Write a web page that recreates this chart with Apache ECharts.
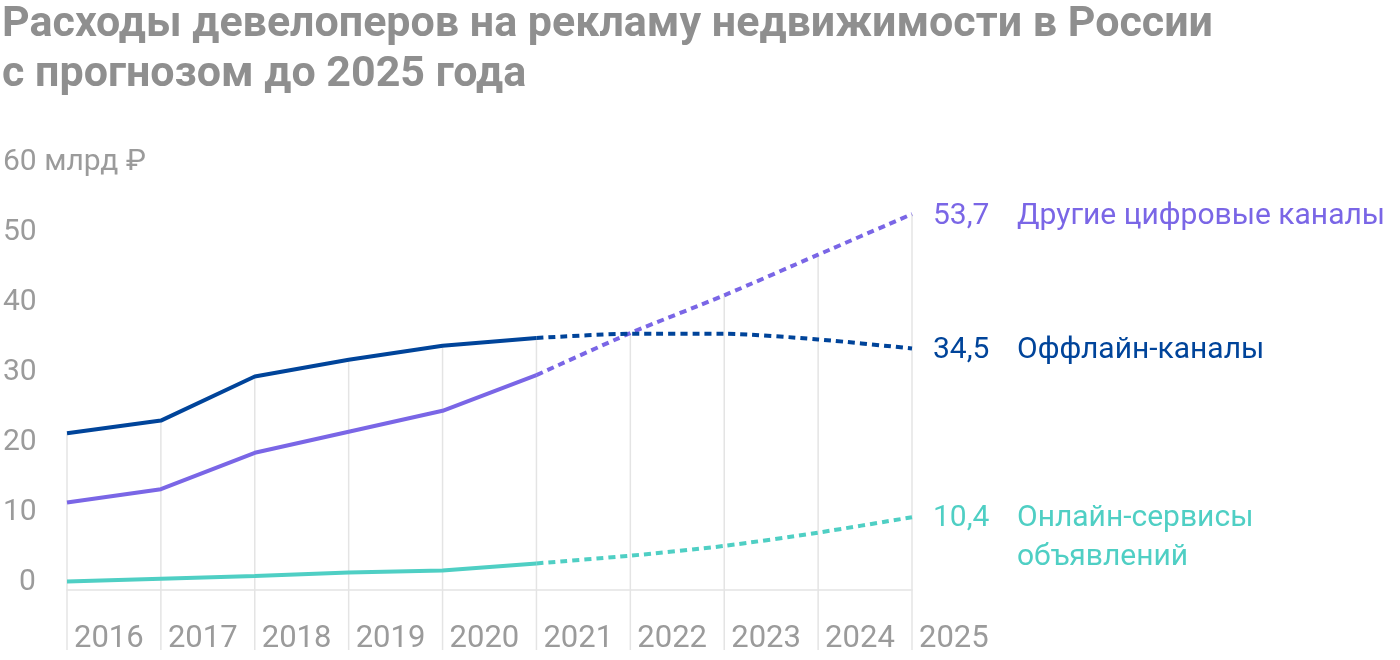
<!DOCTYPE html>
<html>
<head>
<meta charset="utf-8">
<script src="https://cdn.jsdelivr.net/npm/echarts@6/dist/echarts.min.js"></script>
<style>
html,body{margin:0;padding:0;background:#fff;}
#chart{width:1400px;height:660px;}
</style>
</head>
<body>
<div id="chart"></div>
<script>
const titleLines = ['Расходы девелоперов на рекламу недвижимости в России', 'с прогнозом до 2025 года'];
const years = ['2016','2017','2018','2019','2020','2021','2022','2023','2024','2025'];
const forecastFrom = 5; // index of 2021, last actual value
const digital = [12.5, 14.4, 19.6, 22.6, 25.6, 30.7, 36.7, 42.1, 47.9, 53.7];
const offline = [22.4, 24.2, 30.5, 32.9, 34.9, 36.0, 36.6, 36.6, 35.8, 34.5];
const online  = [1.2, 1.6, 2.0, 2.5, 2.8, 3.8, 4.9, 6.3, 8.2, 10.4];
const seriesNames = ['Другие цифровые каналы', 'Оффлайн-каналы', 'Онлайн-сервисы\nобъявлений'];
const yTicks = [0, 10, 20, 30, 40, 50, 60];
const yUnit = 'млрд ₽';

const colors = ['#7a66e6', '#00449a', '#4fcfc4'];
const FONT = 'Roboto, "Noto Sans", sans-serif';
const LABEL_GRAY = '#9b9b9b';
const GRID_GRAY = '#e4e4e4';

const chart = echarts.init(document.getElementById('chart'), null, {renderer: 'canvas'});

const allSeries = [digital, offline, online];
const tops = years.map((_, i) => Math.max(...allSeries.map(s => s[i])));

function actualPart(arr){ return arr.map((v,i) => i <= forecastFrom ? v : null); }
function forecastPart(arr){ return arr.map((v,i) => i >= forecastFrom ? v : null); }
function fmt(v){ return String(v).replace('.', ','); }

const series = [];
// drop lines from the highest point of each year
series.push({
  type: 'custom',
  z: 1,
  silent: true,
  clip: false,
  data: tops.map((t, i) => [i, t]),
  renderItem: function(params, api){
    const top = api.coord([api.value(0), api.value(1)]);
    const zero = api.coord([api.value(0), 0]);
    return {
      type: 'line',
      shape: {x1: top[0], y1: top[1], x2: zero[0], y2: zero[1] + 60},
      style: {stroke: GRID_GRAY, lineWidth: 1.5}
    };
  }
});

allSeries.forEach((arr, k) => {
  series.push({
    type: 'line',
    name: seriesNames[k],
    data: actualPart(arr),
    symbol: 'none',
    z: 3,
    lineStyle: {color: colors[k], width: 4},
    itemStyle: {color: colors[k]}
  });
  const last = arr[arr.length - 1];
  series.push({
    type: 'line',
    name: seriesNames[k] + ' прогноз',
    data: forecastPart(arr),
    symbol: 'none',
    smooth: 0.25,
    z: 3,
    lineStyle: {color: colors[k], width: 4, type: [7, 5]},
    itemStyle: {color: colors[k]},
    endLabel: {
      show: true,
      distance: 21,
      offset: k === 2 ? [0, 21] : [0, 2],
      formatter: function(){
        const parts = seriesNames[k].split('\n');
        return parts.map((p, j) => '{v|' + (j === 0 ? fmt(last) : '') + '}{n|' + p + '}').join('\n');
      },
      rich: {
        v: {width: 84, fontSize: 30, fontFamily: FONT, color: colors[k], lineHeight: 39},
        n: {fontSize: 30, fontFamily: FONT, color: colors[k], lineHeight: 39}
      }
    }
  });
});

const option = {
  animation: false,
  backgroundColor: '#ffffff',
  title: {
    text: titleLines.join('\n'),
    left: -3,
    top: -5,
    textStyle: {fontFamily: FONT, fontWeight: 'bold', fontSize: 43, lineHeight: 50, color: '#8f8f8f'}
  },
  grid: {left: 66, right: 488, top: 170, bottom: 70, containLabel: false},
  xAxis: {
    type: 'category',
    data: years,
    boundaryGap: false,
    axisLine: {show: true, lineStyle: {color: GRID_GRAY, width: 1.5}},
    axisTick: {show: false},
    splitLine: {show: false},
    axisLabel: {
      interval: 0,
      align: 'left',
      margin: 34,
      padding: [0, 0, 0, 7],
      fontSize: 31,
      fontFamily: FONT,
      color: LABEL_GRAY
    }
  },
  yAxis: {
    type: 'value',
    min: yTicks[0],
    max: yTicks[yTicks.length - 1],
    interval: yTicks[1] - yTicks[0],
    axisLine: {show: false},
    axisTick: {show: false},
    splitLine: {show: false},
    axisLabel: {
      align: 'left',
      verticalAlign: 'bottom',
      margin: 64,
      lineHeight: 16,
      fontSize: 30,
      fontFamily: FONT,
      color: LABEL_GRAY,
      formatter: function(v){
        if (v === yTicks[yTicks.length - 1]) return v + ' ' + yUnit;
        if (v < 10) return '{p|}' + v;
        return String(v);
      },
      rich: {p: {width: 16, lineHeight: 16, fontSize: 30}}
    }
  },
  series: series
};
chart.setOption(option);
</script>
</body>
</html>
